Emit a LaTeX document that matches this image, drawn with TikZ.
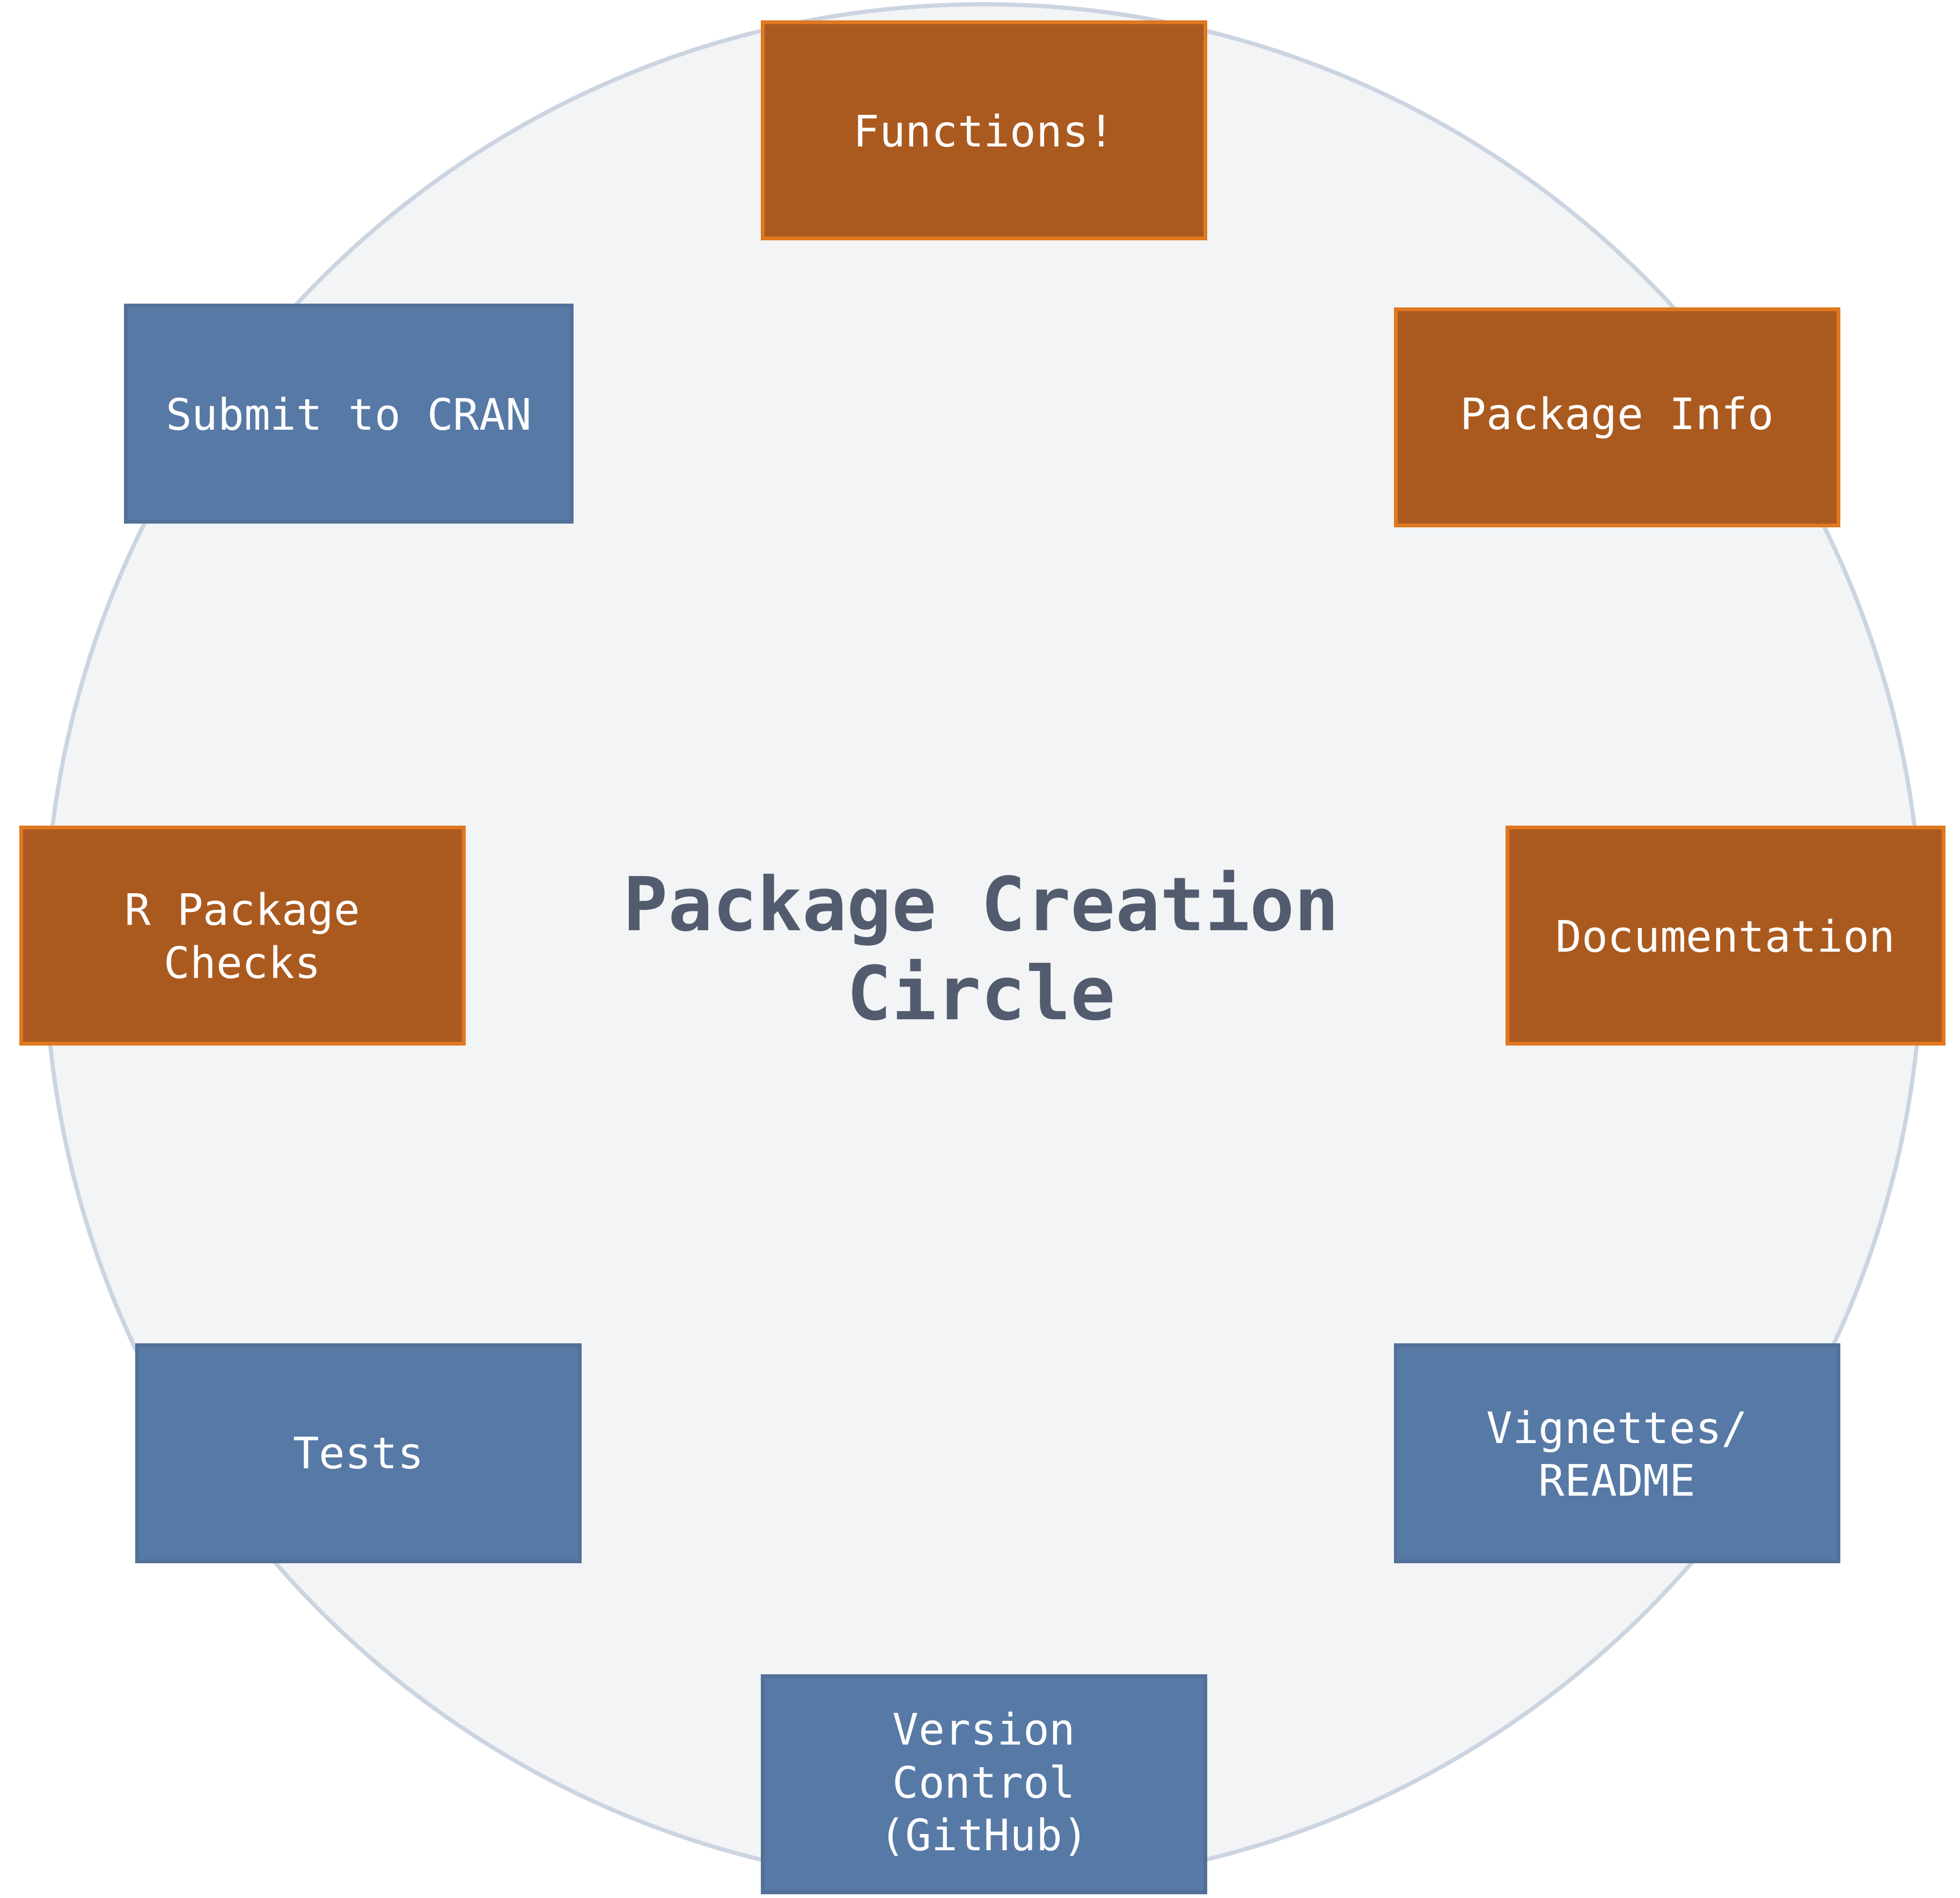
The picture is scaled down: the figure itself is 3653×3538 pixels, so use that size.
\documentclass[tikz,border=0pt]{standalone}
\usepackage{fontspec}
\usetikzlibrary{shapes.geometric}
\setmonofont{DejaVu Sans Mono}
\definecolor{ofill}{HTML}{AB5A1F}
\definecolor{oline}{HTML}{E07820}
\definecolor{bfill}{HTML}{5779A6}
\definecolor{bline}{HTML}{527098}
\definecolor{cfill}{HTML}{F3F4F6}
\definecolor{cline}{HTML}{CBD5E1}
\definecolor{ttl}{HTML}{525C6E}
\tikzset{
  px/.style={x=0.01cm,y=-0.01cm},
  stagebox/.style={rectangle, line width=2pt, minimum width=8.25cm, minimum height=4.02cm,
    inner sep=0pt, align=center, text=white, font=\ttfamily\fontsize{23}{28}\selectfont},
  orangebox/.style={stagebox, fill=ofill, draw=oline},
  bluebox/.style={stagebox, fill=bfill, draw=bline},
  titletext/.style={align=center, text=ttl, font=\ttfamily\bfseries\fontsize{39.4}{47.2}\selectfont}
}
\begin{document}
\begin{tikzpicture}[px]
\useasboundingbox (0,0) rectangle (3653,3538);
\fill[white] (0,0) rectangle (3653,3538);
\node[draw=cline, fill=cfill, line width=2.2pt, ellipse, minimum width=34.96cm, minimum height=35.06cm, inner sep=0pt] (ring) at (1833,1762) {};
\node[titletext] (title) at (1829,1762) {Package Creation\\Circle};
\node[orangebox] (fun) at (1834,243) {Functions!};
\node[orangebox] (info) at (3014,778) {Package Info};
\node[orangebox, minimum width=8.12cm] (doc) at (3216,1744) {Documentation};
\node[bluebox] (vig) at (3014,2709) {Vignettes/\\README};
\node[bluebox] (vc) at (1834,3326) {Version\\Control\\(GitHub)};
\node[bluebox] (tests) at (668,2709) {Tests};
\node[orangebox] (chk) at (452,1744) {R Package\\Checks};
\node[bluebox, minimum width=8.3cm] (cran) at (650,771) {Submit to CRAN};
\end{tikzpicture}
\end{document}
